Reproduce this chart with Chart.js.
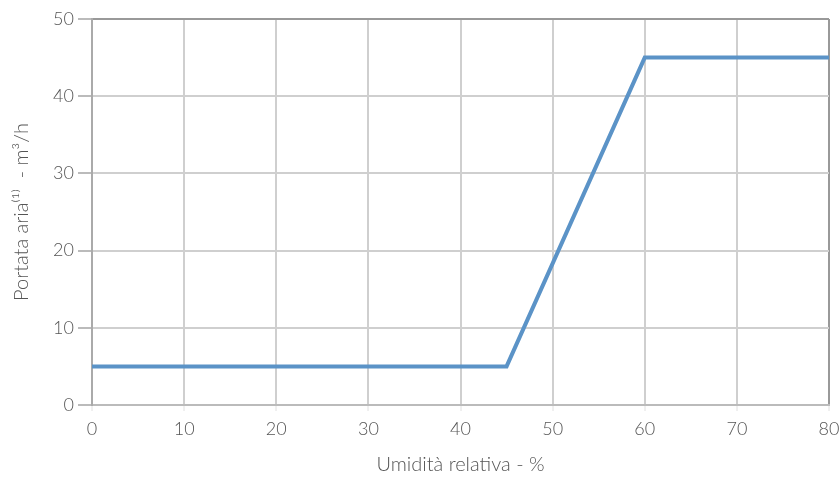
<!DOCTYPE html>
<html>
<head>
<meta charset="utf-8">
<script src="https://cdn.jsdelivr.net/npm/chart.js@4"></script>
<style>
  html, body { margin: 0; padding: 0; background: #fff; }
  #wrap { width: 839px; height: 481px; }
</style>
</head>
<body>
<div id="wrap"><canvas id="chart"></canvas></div>
<script>
// dati
const umidita = [0, 45, 60, 80];
const portata = [5, 5, 45, 45];
const xTicks = [0, 10, 20, 30, 40, 50, 60, 70, 80];
const yTicks = [0, 10, 20, 30, 40, 50];

const points = umidita.map((x, i) => ({ x: x, y: portata[i] }));
const font = { family: 'Lato, "Open Sans", sans-serif', weight: 300, size: 18 };

new Chart(document.getElementById('chart'), {
    type: 'line',
    data: {
        datasets: [{
            label: 'Portata aria',
            data: points,
            borderColor: '#5b93c7',
            borderWidth: 4,
            pointRadius: 0,
            tension: 0,
            fill: false
        }]
    },
    options: {
        responsive: true,
        maintainAspectRatio: false,
        animation: false,
        layout: { padding: { top: 19, right: 0, left: 0, bottom: 0 } },
        plugins: { legend: { display: false }, tooltip: { enabled: false } },
        scales: {
            x: {
                type: 'linear',
                min: 0, max: 80,
                afterBuildTicks: s => { s.ticks = xTicks.map(v => ({ value: v })); },
                afterFit: s => { s.height = 76; s.paddingRight = 10; },
                grid: {
                    color: c => c.tick && c.tick.value === 80 ? '#999' : '#cfcfcf',
                    lineWidth: 2,
                    tickLength: 6,
                    tickColor: '#e0e0e0',
                    tickWidth: 1
                },
                border: { color: '#bbb', width: 2 },
                ticks: { color: '#555', font: font, padding: 7 },
                title: {
                    display: true,
                    text: 'Umidità relativa - %',
                    color: '#555',
                    font: { family: font.family, weight: 300, size: 20 },
                    padding: { top: 6 }
                }
            },
            y: {
                min: 0, max: 50,
                afterBuildTicks: s => { s.ticks = yTicks.map(v => ({ value: v })); },
                afterFit: s => { s.width = 92; },
                grid: {
                    color: c => c.tick && c.tick.value === 50 ? '#999' : '#cfcfcf',
                    lineWidth: 2,
                    tickLength: 14,
                    tickColor: '#bbb'
                },
                border: { color: '#aaa', width: 2 },
                ticks: { color: '#555', font: font, padding: 4 },
                title: {
                    display: true,
                    text: 'Portata aria⁽¹⁾  - m³/h',
                    color: '#555',
                    font: { family: font.family, weight: 300, size: 20 },
                    padding: { top: 10, bottom: 0 }
                }
            }
        }
    }
});
</script>
</body>
</html>
